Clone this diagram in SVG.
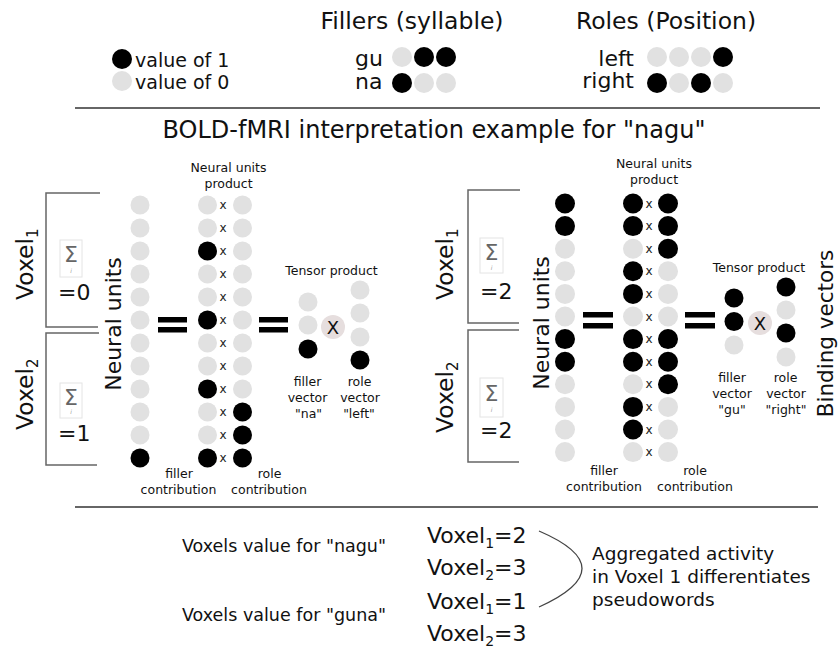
<svg xmlns="http://www.w3.org/2000/svg" width="840" height="647" viewBox="0 0 840 647">
<style>
text{font-family:"DejaVu Sans","Liberation Sans",sans-serif;fill:#111}
.on{fill:#000}
.off{fill:#e1e1e1}
.rot{font-size:23.5px}
.sm{font-size:12.5px;text-anchor:middle}
.xm{font-size:12px;text-anchor:middle;fill:#222}
.eq{fill:#000}
.br{fill:none;stroke:#666;stroke-width:1.5}
.rule{stroke:#333;stroke-width:1.5}
.sbox{fill:#fff;stroke:#e4e4e4;stroke-width:1}
.sig{font-size:22px;text-anchor:middle;fill:#666}
.si{font-size:6px;font-style:italic;text-anchor:middle;fill:#999}
.val{font-size:22px}
.xc{fill:#e6dede}
</style>

<g id="legend-values">
<circle class="on" cx="122" cy="59" r="10"/>
<circle class="off" cx="122" cy="81" r="10"/>
<text x="135" y="67" font-size="19">value of 1</text>
<text x="135" y="89" font-size="19">value of 0</text>
</g>

<g id="legend-fillers">
<text x="412" y="29" font-size="23.5" text-anchor="middle">Fillers (syllable)</text>
<text x="355" y="66" font-size="22">gu</text>
<text x="355" y="89" font-size="22">na</text>
<circle class="off" cx="402" cy="57" r="10"/><circle class="on" cx="424" cy="57" r="10"/><circle class="on" cx="446" cy="57" r="10"/>
<circle class="on" cx="402" cy="83" r="10"/><circle class="off" cx="424" cy="83" r="10"/><circle class="off" cx="446" cy="83" r="10"/>
</g>

<g id="legend-roles">
<text x="666" y="29" font-size="23.5" text-anchor="middle">Roles (Position)</text>
<text x="634" y="66" font-size="22" text-anchor="end">left</text>
<text x="634" y="88" font-size="22" text-anchor="end">right</text>
<circle class="off" cx="657" cy="57" r="10"/><circle class="off" cx="679" cy="57" r="10"/><circle class="off" cx="701" cy="57" r="10"/><circle class="on" cx="723" cy="57" r="10"/>
<circle class="on" cx="657" cy="83" r="10"/><circle class="off" cx="679" cy="83" r="10"/><circle class="on" cx="701" cy="83" r="10"/><circle class="off" cx="723" cy="83" r="10"/>
</g>

<g id="rules">
<line class="rule" x1="75" y1="108" x2="820" y2="108"/>
<line class="rule" x1="75" y1="507" x2="818" y2="507"/>
</g>

<g id="title">
<text x="434" y="138" font-size="24" text-anchor="middle">BOLD-fMRI interpretation example for "nagu"</text>
</g>

<!-- LEFT PANEL -->
<g id="left-voxel1">
<path class="br" d="M100,193 H46 V327 H98"/>
<text class="rot" transform="translate(33,300) rotate(-90)">Voxel<tspan font-size="15" dy="5">1</tspan></text>
<rect class="sbox" x="60" y="240" width="22" height="37"/>
<text class="sig" x="71" y="262">Σ</text><text class="si" x="71" y="273">i</text>
<text x="58" y="300" font-size="22">=0</text>
</g>
<g id="left-voxel2">
<path class="br" d="M99,333 H46 V465 H97"/>
<text class="rot" transform="translate(33,430) rotate(-90)">Voxel<tspan font-size="15" dy="5">2</tspan></text>
<rect class="sbox" x="60" y="383" width="22" height="35"/>
<text class="sig" x="71" y="405">Σ</text><text class="si" x="71" y="414">i</text>
<text x="58" y="441" font-size="22">=1</text>
</g>

<g id="left-neural-units">
<text font-size="22" text-anchor="middle" transform="translate(121,324) rotate(-90)">Neural units</text>
<circle class="off" cx="140" cy="205" r="9.5"/>
<circle class="off" cx="140" cy="228" r="9.5"/>
<circle class="off" cx="140" cy="251" r="9.5"/>
<circle class="off" cx="140" cy="274" r="9.5"/>
<circle class="off" cx="140" cy="297" r="9.5"/>
<circle class="off" cx="140" cy="320" r="9.5"/>
<circle class="off" cx="140" cy="343" r="9.5"/>
<circle class="off" cx="140" cy="366" r="9.5"/>
<circle class="off" cx="140" cy="389" r="9.5"/>
<circle class="off" cx="140" cy="412" r="9.5"/>
<circle class="off" cx="140" cy="435" r="9.5"/>
<circle class="on" cx="140" cy="458" r="9.5"/>
</g>

<g id="left-equals-1">
<rect class="eq" x="158" y="317" width="29" height="5.5"/>
<rect class="eq" x="158" y="327" width="29" height="5.5"/>
</g>

<g id="left-product">
<text class="sm" x="228.5" y="172">Neural units</text>
<text class="sm" x="228.5" y="188">product</text>
<circle class="off" cx="207.5" cy="205" r="9.5"/><text class="xm" x="223" y="209">x</text><circle class="off" cx="242.5" cy="205" r="9.5"/>
<circle class="off" cx="207.5" cy="228" r="9.5"/><text class="xm" x="223" y="232">x</text><circle class="off" cx="242.5" cy="228" r="9.5"/>
<circle class="on" cx="207.5" cy="251" r="9.5"/><text class="xm" x="223" y="255">x</text><circle class="off" cx="242.5" cy="251" r="9.5"/>
<circle class="off" cx="207.5" cy="274" r="9.5"/><text class="xm" x="223" y="278">x</text><circle class="off" cx="242.5" cy="274" r="9.5"/>
<circle class="off" cx="207.5" cy="297" r="9.5"/><text class="xm" x="223" y="301">x</text><circle class="off" cx="242.5" cy="297" r="9.5"/>
<circle class="on" cx="207.5" cy="320" r="9.5"/><text class="xm" x="223" y="324">x</text><circle class="off" cx="242.5" cy="320" r="9.5"/>
<circle class="off" cx="207.5" cy="343" r="9.5"/><text class="xm" x="223" y="347">x</text><circle class="off" cx="242.5" cy="343" r="9.5"/>
<circle class="off" cx="207.5" cy="366" r="9.5"/><text class="xm" x="223" y="370">x</text><circle class="off" cx="242.5" cy="366" r="9.5"/>
<circle class="on" cx="207.5" cy="389" r="9.5"/><text class="xm" x="223" y="393">x</text><circle class="off" cx="242.5" cy="389" r="9.5"/>
<circle class="off" cx="207.5" cy="412" r="9.5"/><text class="xm" x="223" y="416">x</text><circle class="on" cx="242.5" cy="412" r="9.5"/>
<circle class="off" cx="207.5" cy="435" r="9.5"/><text class="xm" x="223" y="439">x</text><circle class="on" cx="242.5" cy="435" r="9.5"/>
<circle class="on" cx="207.5" cy="458" r="9.5"/><text class="xm" x="223" y="462">x</text><circle class="on" cx="242.5" cy="458" r="9.5"/>
<text class="sm" x="179" y="478">filler</text>
<text class="sm" x="178.5" y="494">contribution</text>
<text class="sm" x="269.5" y="478">role</text>
<text class="sm" x="269" y="494">contribution</text>
</g>

<g id="left-equals-2">
<rect class="eq" x="259" y="317" width="29" height="5.5"/>
<rect class="eq" x="259" y="327" width="29" height="5.5"/>
</g>

<g id="left-tensor">
<text class="sm" x="331.5" y="275">Tensor product</text>
<circle class="off" cx="308" cy="302" r="9.5"/>
<circle class="off" cx="308" cy="325" r="9.5"/>
<circle class="on" cx="308" cy="349" r="9.5"/>
<circle class="xc" cx="333" cy="327" r="12"/>
<text x="333" y="333.5" font-size="18" text-anchor="middle">X</text>
<circle class="off" cx="360" cy="290" r="9.5"/>
<circle class="off" cx="360" cy="313" r="9.5"/>
<circle class="off" cx="360" cy="337" r="9.5"/>
<circle class="on" cx="360" cy="360" r="9.5"/>
<text class="sm" x="307.5" y="386">filler</text>
<text class="sm" x="307.5" y="402">vector</text>
<text class="sm" x="308.5" y="418">"na"</text>
<text class="sm" x="359.5" y="386">role</text>
<text class="sm" x="360" y="402">vector</text>
<text class="sm" x="359" y="418">"left"</text>
</g>

<!-- RIGHT PANEL -->
<g id="right-voxel1">
<path class="br" d="M520,190 H468 V323 H519"/>
<text class="rot" transform="translate(453,300) rotate(-90)">Voxel<tspan font-size="15" dy="5">1</tspan></text>
<rect class="sbox" x="480" y="238" width="23" height="35"/>
<text class="sig" x="491.5" y="260">Σ</text><text class="si" x="491.5" y="270">i</text>
<text x="480" y="299" font-size="22">=2</text>
</g>
<g id="right-voxel2">
<path class="br" d="M519,330 H468 V462 H519"/>
<text class="rot" transform="translate(453,433) rotate(-90)">Voxel<tspan font-size="15" dy="5">2</tspan></text>
<rect class="sbox" x="480" y="378" width="23" height="39"/>
<text class="sig" x="491.5" y="401">Σ</text><text class="si" x="491.5" y="412">i</text>
<text x="480" y="438" font-size="22">=2</text>
</g>

<g id="right-neural-units">
<text font-size="22" text-anchor="middle" transform="translate(549,323) rotate(-90)">Neural units</text>
<circle class="on" cx="565" cy="203.5" r="10"/>
<circle class="on" cx="565" cy="226.1" r="10"/>
<circle class="off" cx="565" cy="248.7" r="10"/>
<circle class="off" cx="565" cy="271.3" r="10"/>
<circle class="off" cx="565" cy="293.9" r="10"/>
<circle class="off" cx="565" cy="316.5" r="10"/>
<circle class="on" cx="565" cy="339.1" r="10"/>
<circle class="on" cx="565" cy="361.7" r="10"/>
<circle class="off" cx="565" cy="384.3" r="10"/>
<circle class="off" cx="565" cy="406.9" r="10"/>
<circle class="off" cx="565" cy="429.5" r="10"/>
<circle class="off" cx="565" cy="452.1" r="10"/>
</g>

<g id="right-equals-1">
<rect class="eq" x="583" y="312" width="30" height="5.5"/>
<rect class="eq" x="583" y="323" width="30" height="5.5"/>
</g>

<g id="right-product">
<text class="sm" x="654" y="168">Neural units</text>
<text class="sm" x="654" y="184">product</text>
<circle class="on" cx="633" cy="203.5" r="10"/><text class="xm" x="649" y="207.5">x</text><circle class="on" cx="668" cy="203.5" r="10"/>
<circle class="on" cx="633" cy="226.1" r="10"/><text class="xm" x="649" y="230.1">x</text><circle class="on" cx="668" cy="226.1" r="10"/>
<circle class="off" cx="633" cy="248.7" r="10"/><text class="xm" x="649" y="252.7">x</text><circle class="on" cx="668" cy="248.7" r="10"/>
<circle class="on" cx="633" cy="271.3" r="10"/><text class="xm" x="649" y="275.3">x</text><circle class="off" cx="668" cy="271.3" r="10"/>
<circle class="on" cx="633" cy="293.9" r="10"/><text class="xm" x="649" y="297.9">x</text><circle class="off" cx="668" cy="293.9" r="10"/>
<circle class="off" cx="633" cy="316.5" r="10"/><text class="xm" x="649" y="320.5">x</text><circle class="off" cx="668" cy="316.5" r="10"/>
<circle class="on" cx="633" cy="339.1" r="10"/><text class="xm" x="649" y="343.1">x</text><circle class="on" cx="668" cy="339.1" r="10"/>
<circle class="on" cx="633" cy="361.7" r="10"/><text class="xm" x="649" y="365.7">x</text><circle class="on" cx="668" cy="361.7" r="10"/>
<circle class="off" cx="633" cy="384.3" r="10"/><text class="xm" x="649" y="388.3">x</text><circle class="on" cx="668" cy="384.3" r="10"/>
<circle class="on" cx="633" cy="406.9" r="10"/><text class="xm" x="649" y="410.9">x</text><circle class="off" cx="668" cy="406.9" r="10"/>
<circle class="on" cx="633" cy="429.5" r="10"/><text class="xm" x="649" y="433.5">x</text><circle class="off" cx="668" cy="429.5" r="10"/>
<circle class="off" cx="633" cy="452.1" r="10"/><text class="xm" x="649" y="456.1">x</text><circle class="off" cx="668" cy="452.1" r="10"/>
<text class="sm" x="604" y="475">filler</text>
<text class="sm" x="604" y="491">contribution</text>
<text class="sm" x="695" y="475">role</text>
<text class="sm" x="695" y="491">contribution</text>
</g>

<g id="right-equals-2">
<rect class="eq" x="685" y="312" width="30" height="5.5"/>
<rect class="eq" x="685" y="323" width="30" height="5.5"/>
</g>

<g id="right-tensor">
<text class="sm" x="759" y="271.5">Tensor product</text>
<circle class="on" cx="734" cy="298" r="9.5"/>
<circle class="on" cx="734" cy="321.5" r="9.5"/>
<circle class="off" cx="734" cy="345" r="9.5"/>
<circle class="xc" cx="760" cy="323" r="12"/>
<text x="760" y="329.5" font-size="18" text-anchor="middle">X</text>
<circle class="on" cx="786" cy="287" r="9.5"/>
<circle class="off" cx="786" cy="310" r="9.5"/>
<circle class="on" cx="786" cy="333" r="9.5"/>
<circle class="off" cx="786" cy="357" r="9.5"/>
<text class="sm" x="732" y="382">filler</text>
<text class="sm" x="732" y="398">vector</text>
<text class="sm" x="732" y="414">"gu"</text>
<text class="sm" x="785.5" y="382">role</text>
<text class="sm" x="786" y="398">vector</text>
<text class="sm" x="786" y="414">"right"</text>
</g>

<g id="binding-vectors">
<text font-size="21.5" text-anchor="middle" transform="translate(833,333.5) rotate(-90)">Binding vectors</text>
</g>

<!-- SUMMARY -->
<g id="summary-nagu">
<text x="182" y="552" font-size="17.5">Voxels value for "nagu"</text>
<text class="val" x="427" y="543">Voxel<tspan font-size="14" dy="5">1</tspan><tspan dy="-5">=2</tspan></text>
<text class="val" x="427" y="575">Voxel<tspan font-size="14" dy="5">2</tspan><tspan dy="-5">=3</tspan></text>
</g>
<g id="summary-guna">
<text x="182" y="621" font-size="17.5">Voxels value for "guna"</text>
<text class="val" x="427" y="609">Voxel<tspan font-size="14" dy="5">1</tspan><tspan dy="-5">=1</tspan></text>
<text class="val" x="427" y="641">Voxel<tspan font-size="14" dy="5">2</tspan><tspan dy="-5">=3</tspan></text>
</g>
<g id="summary-note">
<text x="592" y="560" font-size="18.5">Aggregated activity</text>
<text x="592" y="583" font-size="18.5">in Voxel 1 differentiates</text>
<text x="592" y="606" font-size="18.5">pseudowords</text>
</g>

<g id="connectors">
<path d="M539,531 Q625,568 539,607" fill="none" stroke="#444" stroke-width="1.3"/>
</g>
</svg>
